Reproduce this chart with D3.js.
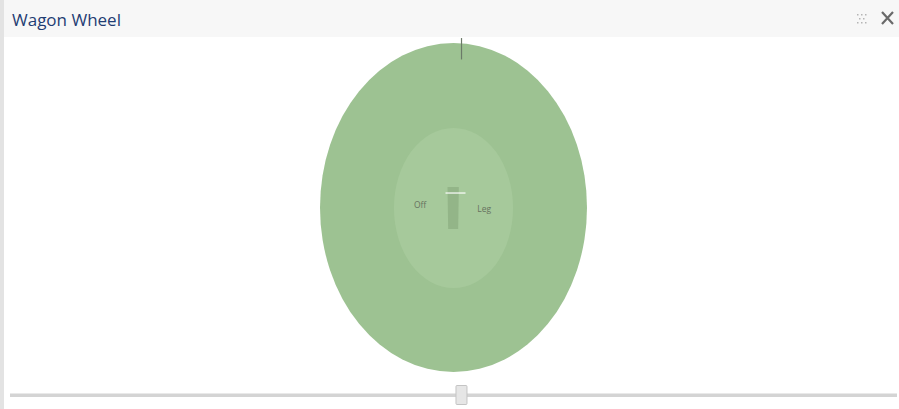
<!DOCTYPE html>
<html><head><meta charset="utf-8">
<script src="https://cdn.jsdelivr.net/npm/d3@7"></script>
<style>
html,body{margin:0;padding:0;background:#fff;overflow:hidden;}
svg{display:block;}
</style></head>
<body>
<script>
// Data (field units: -1..1 across the outer boundary)
const title = "Wagon Wheel";
const zones = ["Boundary", "Infield"];
const zoneRadius = [1.0, 0.446];           // relative size of each zone
const zoneRadiusY = [1.0, 0.487];
const zoneColors = ["#9dc292", "#a6c99b"];
const sideLabels = ["Off", "Leg"];
const sideX = [-0.25, 0.23];
const sideY = [0.0, 0.03];
const shotFromX = [-0.06, 0.06];
const shotFromY = [-0.088, -0.90];
const shotToX = [0.09, 0.06];
const shotToY = [-0.088, -1.03];
const shotColors = ["#ffffff", "#6b7a68"];
const sliderDomain = [0, 100];
const sliderValue = 50.9;

const W = 899, H = 409;
const svg = d3.select("body").append("svg").attr("width", W).attr("height", H);

// panel frame
svg.append("rect").attr("x",0).attr("y",0).attr("width",W).attr("height",H).attr("fill","#fff");
svg.append("rect").attr("x",0).attr("y",0).attr("width",W).attr("height",37).attr("fill","#f7f7f7");
svg.append("rect").attr("x",0).attr("y",0).attr("width",4).attr("height",H).attr("fill","#e3e3e3");
svg.append("text").attr("x",12).attr("y",26).text(title)
  .attr("font-family","'Open Sans', 'Noto Sans', sans-serif").attr("font-size",17)
  .attr("fill","#1f3d73");
// grip dots
const dots = [[0,0],[1,0],[2,0],[0.5,1],[1.5,1],[0,2],[1,2],[2,2]];
svg.append("g").selectAll("rect").data(dots).join("rect")
  .attr("x",d=>857+d[0]*4).attr("y",d=>14+d[1]*4).attr("width",1.5).attr("height",1.5).attr("fill","#b5b5b5");
// close X
svg.append("path").attr("d","M882,12 L893,24 M893,12 L882,24").attr("stroke","#6a6a6a").attr("stroke-width",2.2);

// field scales
const cx = 453.5, cy = 207.5, rx = 133.5, ry = 164.5;
const x = d3.scaleLinear().domain([-1,1]).range([cx-rx, cx+rx]);
const y = d3.scaleLinear().domain([-1,1]).range([cy-ry, cy+ry]);

svg.append("g").selectAll("ellipse").data(zones).join("ellipse")
  .attr("cx", x(0)).attr("cy", (d,i)=> i===0 ? y(0) : y(0.003))
  .attr("rx",(d,i)=> x(zoneRadius[i]) - x(0))
  .attr("ry",(d,i)=> y(zoneRadiusY[i]) - y(0))
  .attr("fill",(d,i)=>zoneColors[i]);

// pitch
const pitchPts = [[-0.045,-0.125],[0.04,-0.125],[0.035,0.13],[-0.04,0.13]];
svg.append("path")
  .attr("d", d3.line().x(d=>x(d[0])).y(d=>y(d[1]))(pitchPts) + "Z")
  .attr("fill","#93b588");

// side labels
svg.append("g").selectAll("text").data(sideLabels).join("text")
  .attr("x",(d,i)=>x(sideX[i])).attr("y",(d,i)=>y(sideY[i]))
  .attr("text-anchor","middle").attr("font-family","'Open Sans', sans-serif")
  .attr("font-size",8.5).attr("fill","#66725f").text(d=>d);

// shots
svg.append("g").selectAll("line").data(shotFromX).join("line")
  .attr("x1",(d,i)=>x(shotFromX[i])).attr("y1",(d,i)=>y(shotFromY[i]))
  .attr("x2",(d,i)=>x(shotToX[i])).attr("y2",(d,i)=>y(shotToY[i]))
  .attr("stroke",(d,i)=>shotColors[i]).attr("stroke-width",(d,i)=> i===0?1.3:1.2)
  .attr("stroke-opacity",(d,i)=> i===0?0.9:1);

// slider
const s = d3.scaleLinear().domain(sliderDomain).range([10, 897]);
svg.append("rect").attr("x",s(0)).attr("y",393.5).attr("width",s(100)-s(0)).attr("height",3.5)
  .attr("fill","#d4d4d4");
svg.append("rect").attr("x",s(sliderValue)-5.5).attr("y",385.5).attr("width",11).attr("height",19)
  .attr("fill","#e6e6e6").attr("stroke","#c4c4c4").attr("stroke-width",1).attr("rx",1);
</script>
</body></html>
